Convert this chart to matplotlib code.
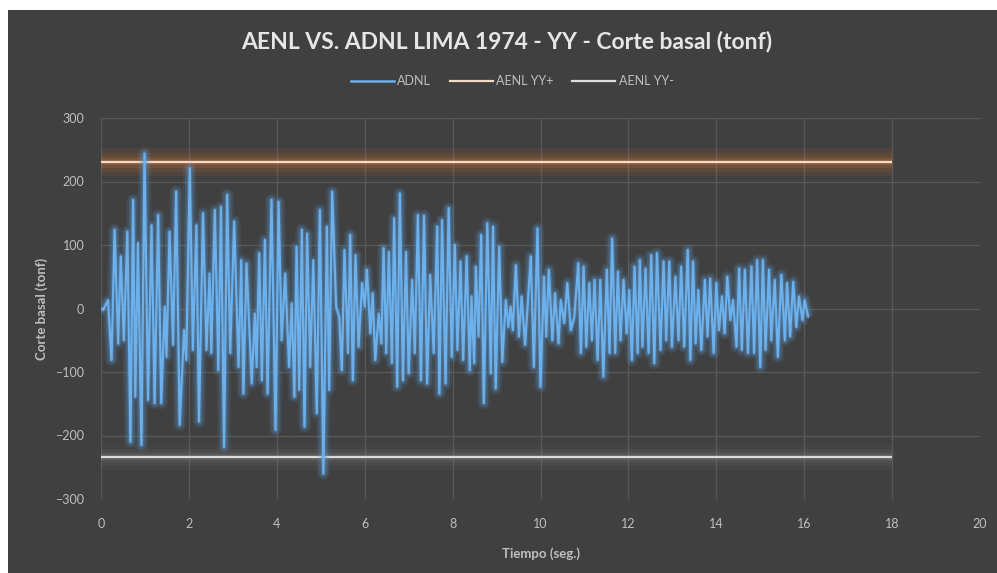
import numpy as np
import matplotlib
matplotlib.use("Agg")
import matplotlib.pyplot as plt
import matplotlib.patheffects as pe
from matplotlib.patches import Rectangle
from matplotlib.lines import Line2D

# ADNL basal shear history, extrema (time s, shear tonf)
t_adnl = [
    0.00, 0.05, 0.16, 0.24, 0.31, 0.39, 0.45, 0.52, 0.60, 0.67, 0.73, 0.78, 0.84, 0.92, 0.99,
    1.07, 1.15, 1.22, 1.30, 1.37, 1.45, 1.49, 1.56, 1.64, 1.71, 1.79, 1.89, 1.94, 2.02, 2.09,
    2.17, 2.23, 2.32, 2.40, 2.47, 2.51, 2.59,
    2.67, 2.73, 2.80, 2.87, 2.94, 3.03, 3.13, 3.19, 3.24, 3.31, 3.43, 3.50, 3.54, 3.60, 3.66,
    3.73, 3.79, 3.88, 3.97, 4.04, 4.11, 4.19, 4.28, 4.34, 4.40, 4.45, 4.51, 4.57, 4.63, 4.69,
    4.76, 4.83, 4.91, 4.98, 5.06, 5.14, 5.19, 5.26,
    5.35, 5.42, 5.48, 5.54, 5.62, 5.67, 5.73, 5.79, 5.86, 5.94, 6.00, 6.05, 6.13, 6.18, 6.24,
    6.32, 6.38, 6.43, 6.49, 6.55, 6.62, 6.67, 6.74, 6.80, 6.87, 6.94, 7.00, 7.08, 7.14, 7.21,
    7.28, 7.35, 7.42, 7.49, 7.57, 7.65, 7.70, 7.76, 7.84, 7.91,
    7.98, 8.05, 8.11, 8.18, 8.24, 8.32, 8.39, 8.43, 8.49, 8.53, 8.59, 8.65, 8.71, 8.79, 8.87,
    8.92, 8.98, 9.06, 9.13, 9.21, 9.27, 9.32, 9.37, 9.44, 9.51, 9.57, 9.65, 9.78, 9.85, 9.93,
    10.00, 10.08, 10.13, 10.19, 10.27, 10.33, 10.41, 10.46, 10.54, 10.61,
    10.69, 10.77, 10.86, 10.92, 10.98, 11.04, 11.11, 11.17, 11.23, 11.30, 11.36, 11.43, 11.51,
    11.57, 11.63, 11.70, 11.76, 11.82, 11.89, 11.96, 12.02, 12.08, 12.14, 12.21, 12.26, 12.32,
    12.39, 12.46, 12.52, 12.59, 12.65, 12.73, 12.80, 12.86, 12.93, 12.99, 13.07, 13.14, 13.20,
    13.27,
    13.35, 13.41, 13.47, 13.53, 13.59, 13.66, 13.74, 13.80, 13.86, 13.94, 14.00, 14.06, 14.13,
    14.19, 14.25, 14.32, 14.38, 14.46, 14.52, 14.58, 14.65, 14.72, 14.80, 14.86, 14.93, 15.00,
    15.06, 15.12, 15.20, 15.25, 15.33, 15.40, 15.48, 15.56, 15.61, 15.68, 15.75, 15.82, 15.88,
    15.96, 16.01, 16.09,
]
v_adnl = [
    0, -2, 13, -81, 124, -55, 82, -50, 121, -210, 171, -139, 103, -215, 244,
    -144, 131, -149, 147, -149, 3, -76, 121, -57, 184, -183, -34, -81, 221, -65,
    131, -178, 150, -65, 55, -70, 155,
    -97, 160, -218, 179, -70, 137, -92, 76, -134, 71, -118, -8, -92, 87, -113,
    108, -134, 171, -191, 168, -50, 55, -92, 8, -139, 97, -128, 124, -186, 118,
    -92, 76, -165, 155, -260, 129, -128, 184,
    3, -13, -97, 92, -70, 116, -113, 84, -60, 40, 3, 61, -39, 24, -81,
    -8, -55, 95, -70, 89, -86, 142, -123, 181, -113, 89, -102, 45, -70, 147,
    -113, 146, -118, 53, -70, 129, -134, 139, -118, 158,
    -76, 100, -65, 74, -81, 82, -97, 19, -86, 66, -44, 116, -149, 134, -102,
    129, -126, 97, -84, 13, -29, 3, -34, 68, -44, 19, -57, 82, -92, 126,
    -123, 50, -44, 61, -50, 24, -55, 13, -23, 40,
    -34, -13, 71, -70, 66, -60, 40, -50, 45, -81, 45, -107, 61,
    -70, 110, -70, 58, -50, 45, -39, 29, -81, 66, -70, 76, -60,
    63, -70, 84, -86, 87, -65, 74, -50, 74, -60, 50, -50, 66,
    -60,
    92, -81, 74, -55, 29, -65, 45, -44, 47, -70, 40, -34, 19,
    -39, 50, -18, 13, -60, 63, -65, 61, -70, 66, -70, 76, -92,
    76, -65, 61, -50, 45, -76, 53, -50, 40, -44, 42, -29, 19,
    -18, 13, -13,
]

# nonlinear static (pushover) limits
t_aenl = [0, 18]
v_aenl_pos = [230, 230]
v_aenl_neg = [-234, -234]

bg = "#404040"
grid_c = "#595959"
txt_c = "#bfbfbf"
blue = "#6cb0ec"
peach = "#f2dcc8"
light = "#dcdcdc"

plt.rcParams["font.family"] = ["Lato", "DejaVu Sans"]

fig = plt.figure(figsize=(9.97, 5.73), dpi=100, facecolor="white")
fig.patches.append(Rectangle((8 / 997, 0), 1, (573 - 10) / 573, transform=fig.transFigure,
                             facecolor=bg, edgecolor="none", zorder=-10))
ax = fig.add_axes([101 / 997, 74 / 573, 879 / 997, 381 / 573])
ax.set_facecolor(bg)


def glow(color, widths, alphas):
    fx = [pe.Stroke(linewidth=w, foreground=color, alpha=a, capstyle="butt")
          for w, a in zip(widths, alphas)]
    return fx + [pe.Normal()]


ax.plot(t_adnl, v_adnl, color=blue, lw=1.6, zorder=3,
        path_effects=glow("#5b9bd5", [9, 6, 3.4], [0.12, 0.2, 0.32]))
ax.plot(t_aenl, v_aenl_pos, color=peach, lw=1.6, zorder=2, solid_capstyle="butt",
        path_effects=glow("#ed7d31", [20, 14, 8, 4], [0.08, 0.1, 0.14, 0.22]))
ax.plot(t_aenl, v_aenl_neg, color=light, lw=1.6, zorder=2, solid_capstyle="butt",
        path_effects=glow("#9a9a9a", [18, 12, 7, 4], [0.05, 0.07, 0.1, 0.18]))

ax.set_xlim(0, 20)
ax.set_ylim(-300, 300)
ax.set_xticks(range(0, 21, 2))
ax.set_yticks(range(-300, 301, 100))
ax.grid(True, color=grid_c, lw=0.9)
ax.set_axisbelow(True)
for s in ax.spines.values():
    s.set_visible(False)
ax.tick_params(colors=txt_c, labelsize=9, length=0)
ax.tick_params(axis="x", pad=14)
ax.tick_params(axis="y", pad=12)

ax.set_xlabel("Tiempo (seg.)", color=txt_c, fontsize=9.5, fontweight="bold", labelpad=12)
ax.set_ylabel("Corte basal (tonf)", color=txt_c, fontsize=9.5, fontweight="bold", labelpad=5)

fig.text(0.508, 1 - 42 / 573, "AENL VS. ADNL LIMA 1974 - YY - Corte basal (tonf)",
         ha="center", va="center", color="#e6e6e6", fontsize=16.5, fontweight="bold")

handles = [Line2D([], [], color=blue, lw=1.8),
           Line2D([], [], color=peach, lw=1.6),
           Line2D([], [], color=light, lw=1.6)]
leg = ax.legend(handles, ["ADNL", "AENL YY+", "AENL YY-"], loc="center",
                bbox_to_anchor=(0.468, 1 + 37 / 381), ncol=3, frameon=False,
                fontsize=9, handlelength=3.4, columnspacing=1.5, handletextpad=0.3)
for text in leg.get_texts():
    text.set_color(txt_c)

fig.savefig("out.png", dpi=100, facecolor=fig.get_facecolor())
